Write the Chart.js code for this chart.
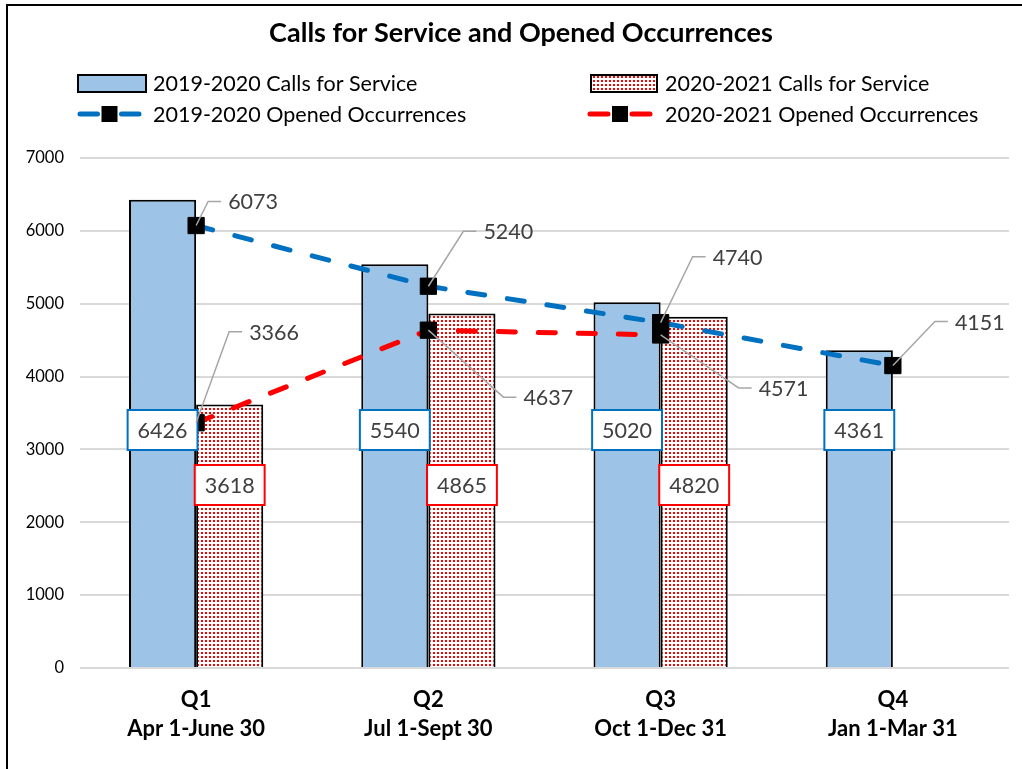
<!DOCTYPE html>
<html lang="en">
<head>
  <meta charset="UTF-8" />
  <title>Calls for Service and Opened Occurrences</title>
  <script src="https://cdn.jsdelivr.net/npm/chart.js"></script>
  <style>
    body {
      margin: 0;
      background-color: #ffffff;
    }

    .wrap {
      position: relative;
      width: 1022px;
      height: 769px;
      overflow: hidden;
    }

    /* outer frame of the chart (only left and top edges are visible) */
    .frame {
      position: absolute;
      left: 6px;
      top: 4px;
      width: 1100px;
      height: 900px;
      border-left: 2px solid #000;
      border-top: 2px solid #000;
      pointer-events: none;
    }
  </style>
</head>
<body>
  <div class="wrap">
    <canvas id="callsChart" width="1022" height="769"></canvas>
    <div class="frame"></div>
  </div>

  <script>
    // data
    const quarters = [
      ['Q1', 'Apr 1-June 30'],
      ['Q2', 'Jul 1-Sept 30'],
      ['Q3', 'Oct 1-Dec 31'],
      ['Q4', 'Jan 1-Mar 31'],
    ];
    const calls1920 = [6426, 5540, 5020, 4361];
    const calls2021 = [3618, 4865, 4820, null];
    const occ1920 = [6073, 5240, 4740, 4151];
    const occ2021 = [3366, 4637, 4571, null];

    const seriesNames = [
      '2019-2020 Calls for Service',
      '2020-2021 Calls for Service',
      '2019-2020 Opened Occurrences',
      '2020-2021 Opened Occurrences',
    ];

    const yMin = 0;
    const yMax = 7000;
    const yStep = 1000;

    const FONT = 'Lato, "Open Sans", sans-serif';
    const BLUE_FILL = '#9dc3e6';
    const BLUE_LINE = '#0070c0';
    const RED = '#ff0000';
    const LABEL_GREY = '#404040';

    // label placement for the line values: [dx to text left, dy] from the point
    const occ1920Offsets = [[32, -24], [55, -55], [52, -66], [62, -44]];
    const occ2021Offsets = [[53, -91], [95, 67], [98, 53], null];

    const canvas = document.getElementById('callsChart');
    const ctx = canvas.getContext('2d');

    // red dotted fill for the 2020-2021 bars
    function makeDots() {
      const c = document.createElement('canvas');
      c.width = 4;
      c.height = 8;
      const x = c.getContext('2d');
      x.fillStyle = '#ffffff';
      x.fillRect(0, 0, 4, 8);
      x.fillStyle = RED;
      x.fillRect(1, 0, 2, 2);
      x.fillRect(1, 4, 2, 2);
      return ctx.createPattern(c, 'repeat');
    }
    const dots = makeDots();

    // title + legend drawn by hand so it sits in two columns like the original
    const headerPlugin = {
      id: 'header',
      afterDraw(chart) {
        const c = chart.ctx;
        c.save();
        c.fillStyle = '#000';
        c.textAlign = 'center';
        c.textBaseline = 'middle';
        c.font = 'bold 27px ' + FONT;
        c.fillText('Calls for Service and Opened Occurrences', 521, 33);

        c.font = '21.5px ' + FONT;
        c.textAlign = 'left';

        // bars
        c.fillStyle = BLUE_FILL;
        c.fillRect(78, 75, 68, 17);
        c.strokeStyle = '#000';
        c.lineWidth = 2;
        c.strokeRect(78, 75, 68, 17);
        c.fillStyle = dots;
        c.fillRect(591, 75, 66, 17);
        c.strokeRect(591, 75, 66, 17);

        // lines
        drawLegendLine(c, 80, 139, 114, BLUE_LINE);
        drawLegendLine(c, 590, 650, 114, RED);

        c.fillStyle = '#000';
        c.fillText(seriesNames[0], 153, 84);
        c.fillText(seriesNames[2], 153, 115);
        c.fillText(seriesNames[1], 665, 84);
        c.fillText(seriesNames[3], 665, 115);
        c.restore();
      }
    };

    function drawLegendLine(c, x1, x2, y, color) {
      const mid = (x1 + x2) / 2;
      c.strokeStyle = color;
      c.lineWidth = 5;
      c.lineCap = 'round';
      c.beginPath();
      c.moveTo(x1, y);
      c.lineTo(mid - 12, y);
      c.moveTo(mid + 12, y);
      c.lineTo(x2, y);
      c.stroke();
      c.fillStyle = '#000';
      c.fillRect(mid - 8, y - 8, 16, 16);
    }

    // boxed labels on the bars, leader-line labels on the lines
    const valueLabels = {
      id: 'valueLabels',
      afterDatasetsDraw(chart) {
        const c = chart.ctx;
        const area = chart.chartArea;
        c.save();
        c.font = '21.5px ' + FONT;
        c.textBaseline = 'middle';

        // bar labels, fixed heights like the original
        const boxSpec = [
          { ds: 0, y: area.bottom - 238, stroke: BLUE_LINE },
          { ds: 1, y: area.bottom - 183, stroke: RED },
        ];
        boxSpec.forEach(spec => {
          const meta = chart.getDatasetMeta(spec.ds);
          const values = chart.data.datasets[spec.ds].data;
          meta.data.forEach((el, i) => {
            if (values[i] == null) return;
            const text = String(values[i]);
            const w = c.measureText(text).width + 20;
            const h = 40;
            c.fillStyle = '#fff';
            c.fillRect(el.x - w / 2, spec.y - h / 2, w, h);
            c.strokeStyle = spec.stroke;
            c.lineWidth = 2;
            c.strokeRect(el.x - w / 2, spec.y - h / 2, w, h);
            c.fillStyle = LABEL_GREY;
            c.textAlign = 'center';
            c.fillText(text, el.x, spec.y + 1);
          });
        });

        // line labels with grey leaders
        const lineSpec = [
          { ds: 2, offsets: occ1920Offsets },
          { ds: 3, offsets: occ2021Offsets },
        ];
        lineSpec.forEach(spec => {
          const meta = chart.getDatasetMeta(spec.ds);
          const values = chart.data.datasets[spec.ds].data;
          meta.data.forEach((pt, i) => {
            if (values[i] == null || !spec.offsets[i]) return;
            const tx = pt.x + spec.offsets[i][0];
            const ty = pt.y + spec.offsets[i][1];
            c.strokeStyle = '#a6a6a6';
            c.lineWidth = 1.5;
            c.beginPath();
            c.moveTo(pt.x, pt.y);
            c.lineTo(tx - 20, ty);
            c.lineTo(tx - 7, ty);
            c.stroke();
            c.fillStyle = LABEL_GREY;
            c.textAlign = 'left';
            c.fillText(String(values[i]), tx, ty + 1);
          });
        });
        c.restore();
      }
    };

    new Chart(ctx, {
      data: {
        labels: quarters,
        datasets: [
          {
            type: 'bar',
            label: seriesNames[0],
            data: calls1920,
            backgroundColor: BLUE_FILL,
            borderColor: '#000',
            borderWidth: 2,
            categoryPercentage: 0.578,
            barPercentage: 1,
            order: 2,
          },
          {
            type: 'bar',
            label: seriesNames[1],
            data: calls2021,
            backgroundColor: dots,
            borderColor: '#000',
            borderWidth: 2,
            categoryPercentage: 0.578,
            barPercentage: 1,
            order: 2,
          },
          {
            type: 'line',
            label: seriesNames[2],
            data: occ1920,
            borderColor: BLUE_LINE,
            borderWidth: 5,
            borderDash: [17, 23],
            borderCapStyle: 'round',
            pointStyle: 'rect',
            pointRadius: 11.5,
            pointBackgroundColor: '#000',
            pointBorderColor: '#000',
            pointBorderWidth: 1,
            tension: 0,
            order: 1,
          },
          {
            type: 'line',
            label: seriesNames[3],
            data: occ2021,
            borderColor: RED,
            borderWidth: 5,
            borderDash: [17, 23],
            borderCapStyle: 'round',
            pointStyle: 'rect',
            pointRadius: 11.5,
            pointBackgroundColor: '#000',
            pointBorderColor: '#000',
            pointBorderWidth: 1,
            tension: 0,
            order: 0,
          },
        ],
      },
      options: {
        responsive: false,
        animation: false,
        layout: {
          padding: { top: 158, right: 13, left: 0, bottom: 0 },
        },
        plugins: {
          legend: { display: false },
          title: { display: false },
          tooltip: { enabled: false },
        },
        scales: {
          x: {
            grid: { display: false, drawTicks: false },
            border: { display: false },
            ticks: {
              color: '#000',
              padding: 18,
              font: { family: FONT, size: 22, weight: 'bold', lineHeight: 1.3 },
            },
            afterFit(scale) {
              scale.height = 101;
            },
          },
          y: {
            min: yMin,
            max: yMax,
            grid: { color: '#d9d9d9', lineWidth: 2, drawTicks: false },
            border: { display: false },
            ticks: {
              stepSize: yStep,
              color: '#000',
              padding: 16,
              font: { family: FONT, size: 16.5 },
              callback: value => String(value),
            },
            afterFit(scale) {
              scale.width = 80;
            },
          },
        },
      },
      plugins: [headerPlugin, valueLabels],
    });
  </script>
</body>
</html>
